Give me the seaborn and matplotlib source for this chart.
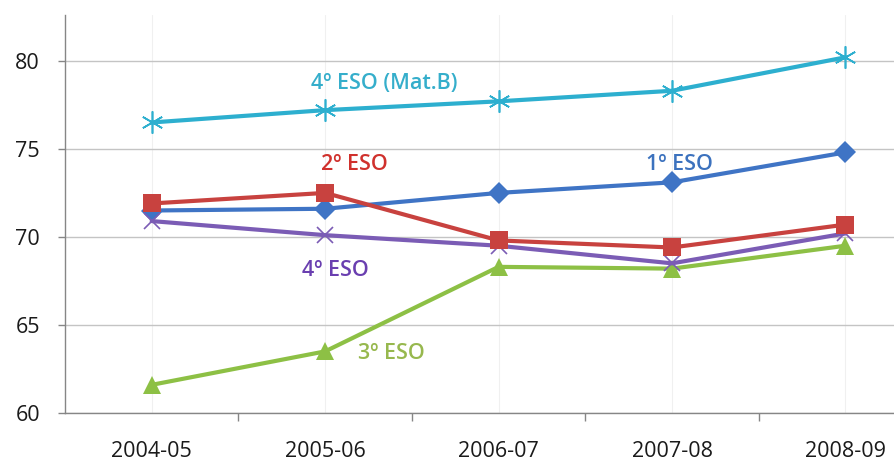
import matplotlib
matplotlib.use("Agg")
import matplotlib.pyplot as plt
import seaborn as sns
import pandas as pd

years = ["2004-05", "2005-06", "2006-07", "2007-08", "2008-09"]

eso1 = [71.5, 71.6, 72.5, 73.1, 74.8]
eso2 = [71.9, 72.5, 69.8, 69.4, 70.7]
eso3 = [61.6, 63.5, 68.3, 68.2, 69.5]
eso4 = [70.9, 70.1, 69.5, 68.5, 70.2]
eso4_matb = [76.5, 77.2, 77.7, 78.3, 80.2]

yticks = [60, 65, 70, 75, 80]


def main():
    sns.set_style("white")
    plt.rcParams["font.family"] = ["Open Sans", "DejaVu Sans"]

    fig = plt.figure(figsize=(8.94, 4.66), dpi=100)
    ax = fig.add_axes([0.0727, 0.1137, 0.9273, 0.854])

    pos = list(range(len(years)))
    series = [
        # name, values, line colour, marker, marker size, marker edge width
        ("1º ESO", eso1, "#3F74C5", "D", 11, 0),
        ("3º ESO", eso3, "#8DC045", "^", 13, 0),
        ("4º ESO", eso4, "#7B5CB5", "x", 11, 1.2),
        ("2º ESO", eso2, "#C8423F", "s", 13, 0),
        ("4º ESO (Mat.B)", eso4_matb, "#2DAFCF", (6, 2, 0), 16, 1.2),
    ]
    for name, vals, col, mk, ms, mew in series:
        df = pd.DataFrame({"pos": pos, "val": vals})
        sns.lineplot(data=df, x="pos", y="val", ax=ax, color=col, lw=3,
                     marker=mk, markersize=ms, markeredgewidth=mew,
                     markeredgecolor=col, markerfacecolor=col, legend=False)

    # inline series labels
    lab = dict(fontsize=15.5, fontweight="semibold", ha="center", va="center")
    ax.text(1.34, 78.7, "4º ESO (Mat.B)", color="#35AECB", **lab)
    ax.text(1.17, 74.1, "2º ESO", color="#D0312D", **lab)
    ax.text(3.04, 74.1, "1º ESO", color="#3C72BE", **lab)
    ax.text(1.06, 68.1, "4º ESO", color="#6A3FB0", **lab)
    ax.text(1.38, 63.4, "3º ESO", color="#97B84E", **lab)

    ax.set_xlim(-0.5, 4.28)
    ax.set_ylim(60, 82.6)
    ax.set_yticks(yticks)
    ax.set_xticks(pos)
    ax.set_xticklabels(years)
    ax.set_xticks([0.5, 1.5, 2.5, 3.5], minor=True)
    ax.set_xlabel("")
    ax.set_ylabel("")

    ax.grid(axis="y", color="#C4C4C4", lw=1)
    ax.grid(axis="x", which="major", color="#F0F0F0", lw=0.8)
    ax.set_axisbelow(True)

    for s in ["top", "right"]:
        ax.spines[s].set_visible(False)
    for s in ["left", "bottom"]:
        ax.spines[s].set_color("#868686")
        ax.spines[s].set_linewidth(1)

    ax.tick_params(axis="y", which="major", left=True, length=5, width=1,
                   color="#868686", pad=13, labelsize=15.5, labelcolor="#1A1A1A")
    ax.tick_params(axis="x", which="major", bottom=False, pad=17,
                   labelsize=15.5, labelcolor="#1A1A1A")
    ax.tick_params(axis="x", which="minor", bottom=True, length=6, width=1,
                   color="#868686")

    fig.savefig("out.png", dpi=100)
    plt.close(fig)


if __name__ == "__main__":
    main()
